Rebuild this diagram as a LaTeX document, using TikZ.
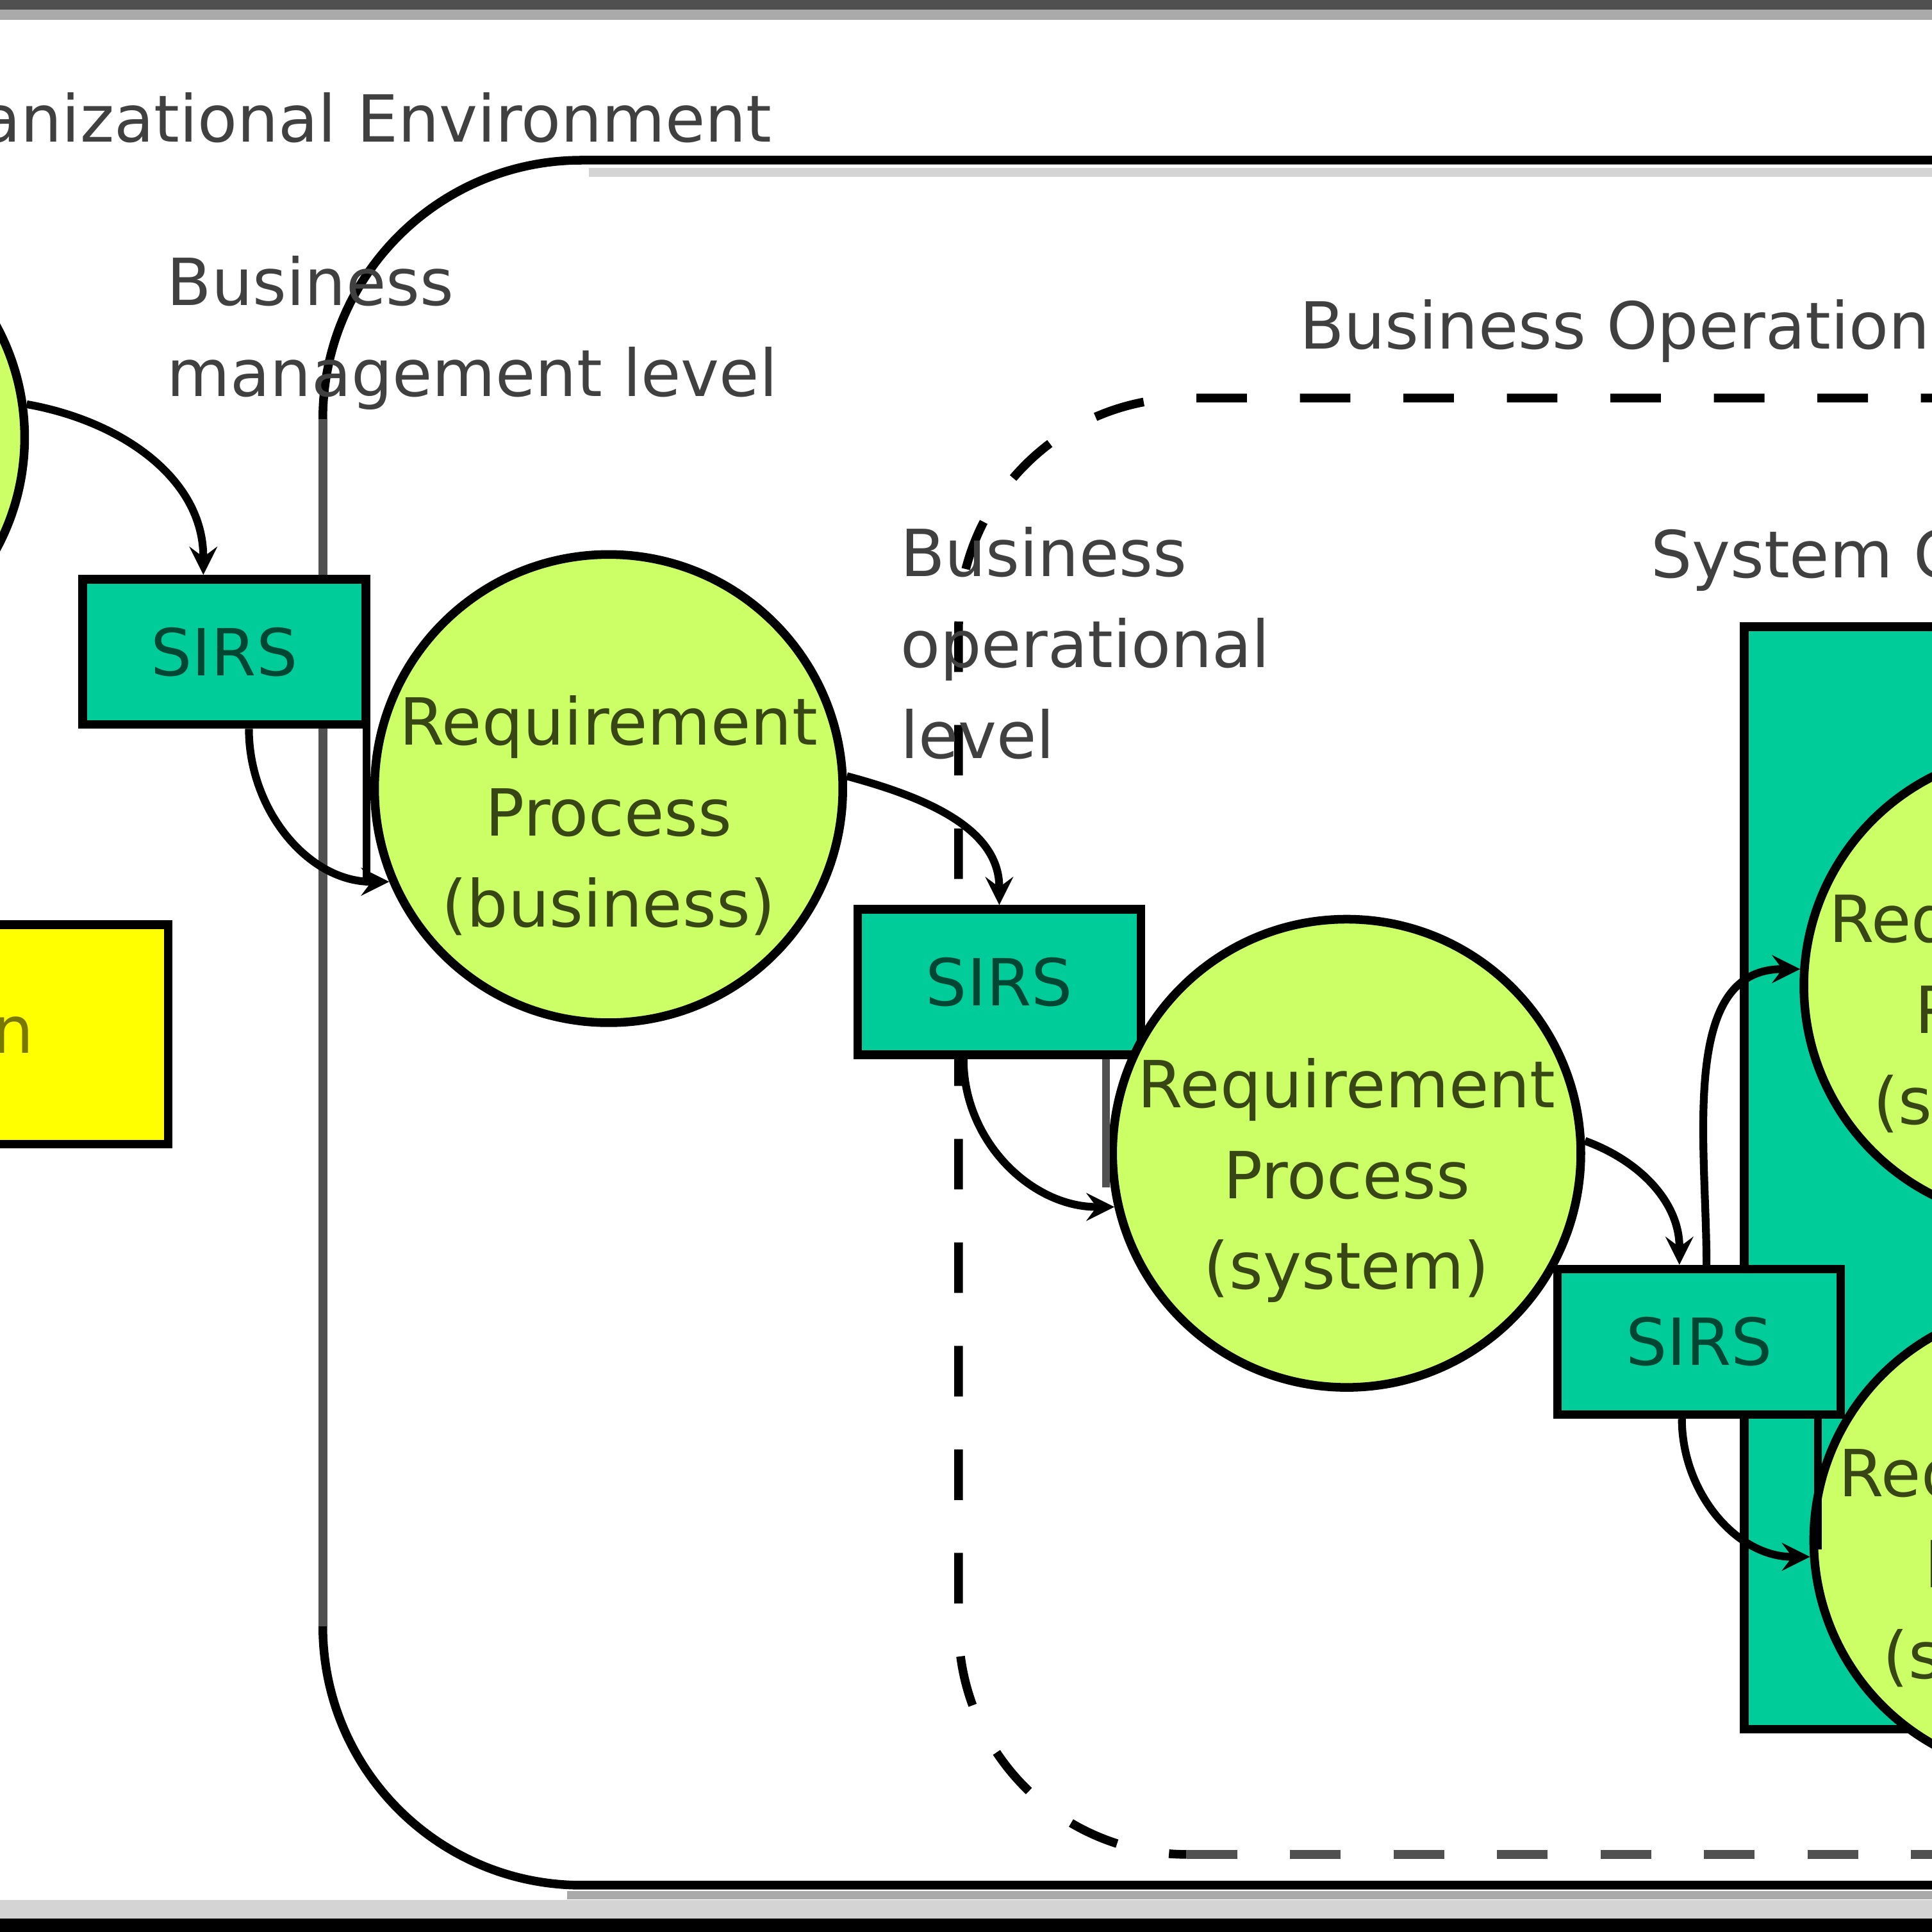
\documentclass[tikz,border=0pt]{standalone}
\usepackage{fontspec}
\setmainfont{DejaVu Sans}
\usepackage{xcolor}
\definecolor{lima}{RGB}{204,255,102}
\definecolor{turquesa}{RGB}{0,204,153}
\definecolor{amarillo}{RGB}{255,255,0}
\definecolor{oliva}{RGB}{120,120,0}
\definecolor{grisOscuro}{RGB}{80,80,80}
\definecolor{gris}{RGB}{170,170,170}
\definecolor{grisClaro}{RGB}{212,212,212}
\definecolor{textoOliva}{RGB}{55,70,20}
\definecolor{textoTurquesa}{RGB}{0,70,50}
\usepackage{tikz}
\usetikzlibrary{arrows,calc,positioning}
\tikzstyle{conector}=[>=stealth, line width=1.8pt]
\tikzstyle{proceso}=[circle, draw, fill=lima, minimum size=38mm,
                    line width=2pt, inner sep=0pt]
\tikzstyle{proctexto}=[text=textoOliva, align=center, inner sep=0pt,
                    font=\fontsize{15}{21}\selectfont]
\tikzstyle{caja}=[rectangle, draw, fill=turquesa, line width=2pt,
                    minimum width=23mm, minimum height=11.8mm, inner sep=0pt,
                    text=textoTurquesa, font=\fontsize{15}{21}\selectfont]
\tikzstyle{etiqueta}=[text=black!75, align=left, inner sep=0pt,
                    font=\fontsize{15}{21}\selectfont]
\tikzstyle{entorno}=[line width=2pt]
\tikzstyle{entornoGuion}=[line width=2pt, dash pattern=on 4.1mm off 4.3mm]

\begin{document}
\begin{tikzpicture}[x=0.1mm, y=-0.1mm]
    \useasboundingbox (0,0) rectangle (1568,1568);
    \clip (0,0) rectangle (1568,1568);

    % marco
    \fill[grisOscuro] (0,0) rectangle (1568,8);
    \fill[gris] (0,8) rectangle (1568,16);
    \fill[grisClaro] (0,1542) rectangle (1568,1557);
    \fill[black] (0,1557) rectangle (1568,1568);

    % entorno organizacional
    \node[etiqueta, anchor=base east] (tituloOrg) at (627,115)
        {Organizational Environment};
    \draw[grisClaro, line width=2pt] (478,140) -- (1600,140);
    \draw[gris, line width=2pt] (460,1538) -- (1600,1538);
    \draw[entorno, rounded corners=21mm] (1600,130) -- (262,130)
        -- (262,1530) -- (1600,1530);
    \draw[grisOscuro, line width=2pt] (262,340) -- (262,1320);

    % operaciones
    \draw[entornoGuion, rounded corners=18.5mm] (1600,323) -- (778,323)
        -- (778,1505) -- (963,1505);
    \draw[entornoGuion, grisOscuro] (963,1505) -- (1600,1505);

    \node[etiqueta, anchor=north west] (nivelGestion) at (135,207)
        {Business\\management level};
    \node[etiqueta, anchor=north west] (nivelOperativo) at (730,427)
        {Business\\operational\\level};
    \node[etiqueta, anchor=base west] (tituloOps) at (1054,283)
        {Business Operations};
    \node[etiqueta, anchor=base west] (tituloSis) at (1339,469)
        {System Context};

    % nodos
    \node[rectangle, draw, fill=amarillo, line width=2pt, anchor=north east,
        minimum width=20mm, minimum height=17.8mm] (dominio) at (140,747) {};
    \node[text=oliva, anchor=east, inner sep=0pt,
        font=\fontsize{15}{21}\selectfont] (txtDominio) at (28,840) {n};

    \node[rectangle, draw, fill=turquesa, line width=2pt, anchor=north west,
        minimum width=30mm, minimum height=89.5mm] (sisCtx) at (1412,505) {};

    \node[proceso] (reqIzq) at (-170,355) {};
    \node[caja] (sirsA) at (182,529) {SIRS};
    \node[proceso] (reqBus) at (494,640) {};
    \node[proctexto] (txtBus) at ([yshift=-2.2mm]reqBus.center)
        {Requirement\\Process\\(business)};
    \node[caja] (sirsB) at (811,797) {SIRS};
    \node[proceso] (reqSis) at (1093,936) {};
    \node[proctexto] (txtSis) at ([yshift=-2.2mm]reqSis.center)
        {Requirement\\Process\\(system)};
    \node[caja] (sirsC) at (1379,1089) {SIRS};

    \node[proceso] (reqSubA) at (1654,800) {};
    \node[proctexto] (txtSubA) at ([yshift=-2.2mm]reqSubA.center)
        {Requirement\\Process\\(software)};
    \node[proceso] (reqSubB) at (1662,1250) {};
    \node[proctexto] (txtSubB) at ([yshift=-2.2mm]reqSubB.center)
        {Requirement\\Process\\(software)};

    % conectores
    \draw[conector,->] (reqIzq.8) to[out=-10,in=90] ([xshift=-1.7mm]sirsA.north);
    \draw[conector,->] ([xshift=2mm]sirsA.south) to[out=-90,in=180] (reqBus.203);
    \draw[conector,->] (reqBus.3) to[out=-15,in=90] (sirsB.north);
    \draw[conector,->] ([xshift=-2.9mm]sirsB.south) to[out=-90,in=180] (reqSis.193);
    \draw[conector,->] (reqSis.3) to[out=-20,in=90] ([xshift=-1.6mm]sirsC.north);
    \draw[conector,->] ([xshift=0.6mm]sirsC.north) to[out=90,in=180] (reqSubA.176);
    \draw[conector,->] ([xshift=-1.4mm]sirsC.south) to[out=-90,in=180] (reqSubB.184);

    \draw[line width=1.8pt] ([xshift=-0.3mm]sirsA.south east) -- ++(0,124);
    \draw[grisOscuro, line width=1.8pt] ([xshift=-3.2mm]sirsB.south east) -- ++(0,104);
    \draw[line width=1.8pt] ([xshift=-2.2mm]sirsC.south east) -- ++(0,106);
\end{tikzpicture}
\end{document}
